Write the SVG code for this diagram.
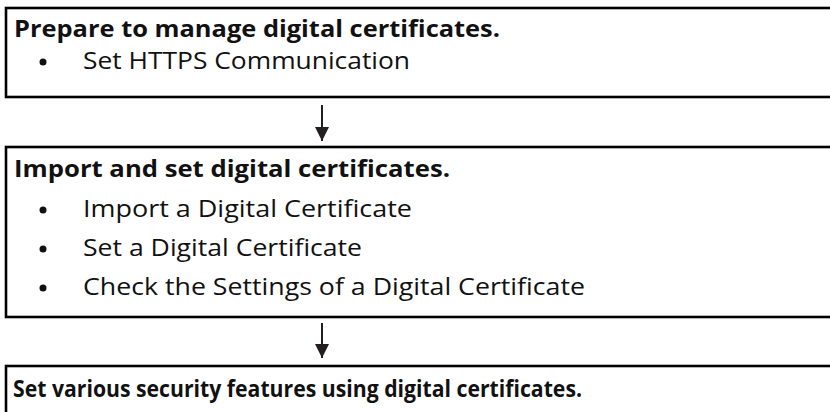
<svg xmlns="http://www.w3.org/2000/svg" width="830" height="412" viewBox="0 0 830 412">
<style>
.box{fill:#fff;stroke:#000;stroke-width:2.6}
.h{font-family:"Open Sans","Noto Sans","Liberation Sans",sans-serif;font-weight:bold;font-size:23px;fill:#111}
.t{font-family:"Open Sans","Noto Sans","Liberation Sans",sans-serif;font-size:23px;fill:#111}
.dot{fill:#111}
.conn{stroke:#231f20;stroke-width:2;fill:none}
</style>
<defs>
<marker id="ah" markerWidth="16" markerHeight="14" refX="16" refY="8" orient="auto" markerUnits="userSpaceOnUse" viewBox="0 0 16 16">
<path d="M0,0 L16,8 L0,16 Z" fill="#231f20"/>
</marker>
</defs>
<rect width="830" height="412" fill="#fff"/>
<g id="node1">
<rect class="box" x="6" y="8" width="900" height="89"/>
<text class="h" x="14" y="37" textLength="486" lengthAdjust="spacingAndGlyphs">Prepare to manage digital certificates.</text>
<circle class="dot" cx="43" cy="62" r="3.5"/>
<text class="t" x="83" y="69" textLength="327" lengthAdjust="spacingAndGlyphs">Set HTTPS Communication</text>
</g>
<g id="node2">
<rect class="box" x="6" y="147" width="900" height="170"/>
<text class="h" x="14" y="177" textLength="436" lengthAdjust="spacingAndGlyphs">Import and set digital certificates.</text>
<circle class="dot" cx="43" cy="210" r="3.5"/>
<text class="t" x="83" y="217" textLength="329" lengthAdjust="spacingAndGlyphs">Import a Digital Certificate</text>
<circle class="dot" cx="43" cy="249" r="3.5"/>
<text class="t" x="83" y="256" textLength="279" lengthAdjust="spacingAndGlyphs">Set a Digital Certificate</text>
<circle class="dot" cx="43" cy="288" r="3.5"/>
<text class="t" x="83" y="295" textLength="502" lengthAdjust="spacingAndGlyphs">Check the Settings of a Digital Certificate</text>
</g>
<g id="node3">
<rect class="box" x="6" y="366" width="900" height="100"/>
<text class="h" x="13" y="397" textLength="569" lengthAdjust="spacingAndGlyphs">Set various security features using digital certificates.</text>
</g>
<g id="connectors">
<line class="conn" x1="322" y1="105" x2="322" y2="141" marker-end="url(#ah)"/>
<line class="conn" x1="322" y1="323" x2="322" y2="358" marker-end="url(#ah)"/>
</g>
</svg>
